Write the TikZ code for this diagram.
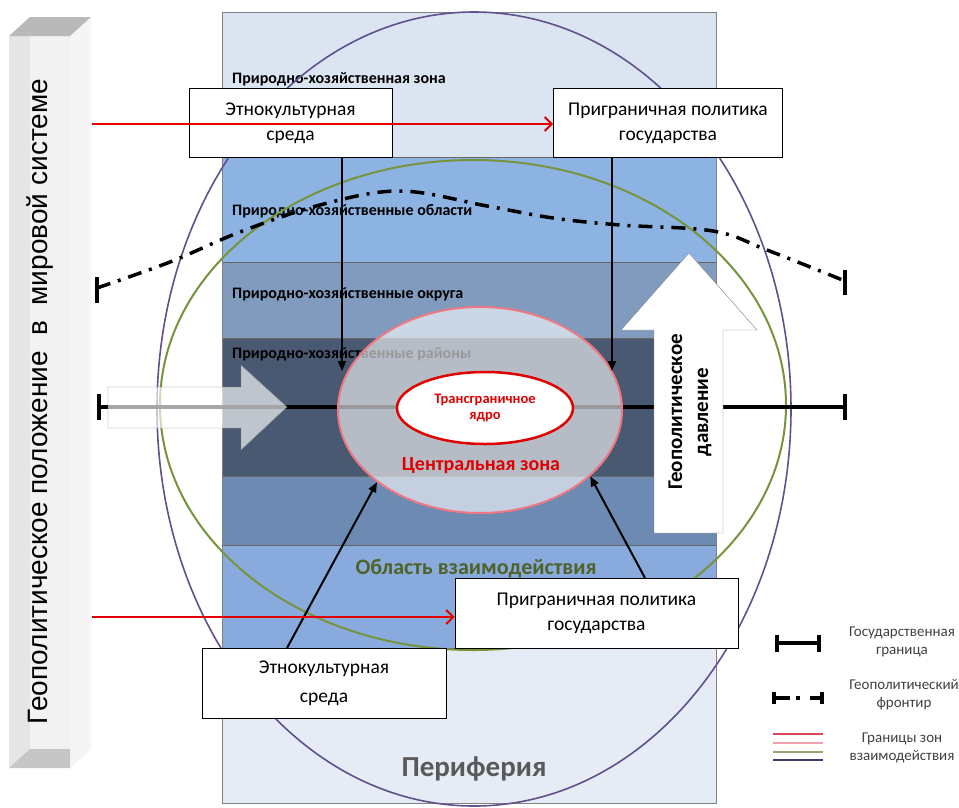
\documentclass[tikz,border=0pt]{standalone}
\usepackage{fontspec}
\setmainfont{Carlito}
\newfontfamily\barfont{Liberation Sans}
\usetikzlibrary{arrows.meta,positioning,shapes.geometric}

\definecolor{bandA}{RGB}{219,229,242}
\definecolor{bandB}{RGB}{141,179,226}
\definecolor{bandC}{RGB}{128,155,190}
\definecolor{bandD}{RGB}{74,89,114}
\definecolor{bandE}{RGB}{108,138,178}
\definecolor{bandF}{RGB}{137,170,220}
\definecolor{bandG}{RGB}{229,236,246}
\definecolor{outerring}{RGB}{96,80,140}
\definecolor{midring}{RGB}{119,147,60}
\definecolor{innerring}{RGB}{240,120,130}
\definecolor{coreRed}{RGB}{225,0,0}
\definecolor{zoneGreen}{RGB}{79,98,40}
\definecolor{legendgray}{RGB}{64,64,64}
\definecolor{legRed}{RGB}{220,70,90}
\definecolor{legPink}{RGB}{240,160,175}
\definecolor{legOlive}{RGB}{155,160,110}
\definecolor{legNavy}{RGB}{60,60,100}

\tikzset{
  box/.style={draw=black, fill=white, line width=0.8pt, align=center,
    font=\fontsize{19.5}{25}\selectfont, inner sep=0pt},
  bandlabel/.style={anchor=west, inner sep=0pt,
    font=\bfseries\fontsize{16}{18}\selectfont},
  pushline/.style={red!90!black, line width=2pt,
    -{Straight Barb[length=7pt,width=14pt]}},
  flow/.style={line width=2pt, -{Triangle[length=10pt,width=8pt]}},
  stateline/.style={line width=4pt},
  frontline/.style={line width=3.5pt, dash pattern=on 14pt off 8pt on 3pt off 8pt},
  legendtext/.style={align=center, text=legendgray, font=\fontsize{15}{18}\selectfont}
}

\begin{document}
\begin{tikzpicture}[x=1pt,y=-1pt]
\useasboundingbox (0,0) rectangle (959,807);

% left 3d bar
\fill[gray!20] (9,36) rectangle (30,768);
\fill[gray!10] (30,36) rectangle (70,768);
\fill[gray!8] (70,36) -- (91,17) -- (91,749) -- (70,768) -- cycle;
\fill[gray!55] (9,36) -- (30,17) -- (91,17) -- (70,36) -- cycle;
\fill[gray!45] (9,768) -- (30,749) -- (70,749) -- (70,768) -- cycle;
\node[rotate=90, font=\barfont\fontsize{28}{32}\selectfont] (worldpos) at (40,402)
  {Геополитическое положение~~в~~мировой системе};

% bands, edit here for the heights
\foreach \ya/\yb/\col in {12/157/bandA, 157/262/bandB, 262/338/bandC,
    338/476/bandD, 476/545/bandE, 545/648/bandF, 648/803/bandG}
  \draw[black!60, fill=\col] (222,\ya) rectangle (716,\yb);
\draw[gray] (222,12) rectangle (716,803);

\node[bandlabel] (zoneA) at (232,79) {Природно-хозяйственная зона};
\node[bandlabel] (zoneB) at (232,211) {Природно-хозяйственные области};
\node[bandlabel] (zoneC) at (232,294) {Природно-хозяйственные округа};
\node[bandlabel] (zoneD) at (232,354) {Природно-хозяйственные районы};

% zone borders
\draw[outerring, line width=1.6pt] (474,409) ellipse [x radius=317, y radius=397];
\draw[midring, line width=2pt] (473,405) ellipse [x radius=313, y radius=245];

% geopolitical frontier
\coordinate (frL) at (97,288);
\coordinate (frR) at (845,281);
\draw[frontline] plot[smooth, tension=0.6] coordinates {(frL) (170,262) (240,232)
  (320,205) (400,191) (487,206) (553,218) (620,225) (713,231) (767,250) (frR)};
\draw[line width=3.5pt] (97,277) -- (97,303);
\draw[line width=3.5pt] (845,270) -- (845,295);

% state border
\coordinate (sbL) at (97,407);
\coordinate (sbR) at (847,407);
\draw[stateline, {Bar[width=26pt]}-{Bar[width=26pt]}] (sbL) -- (sbR);

% push from outside
\draw[gray, fill=white, fill opacity=0.65] (108,387) -- (241,387) -- (241,365)
  -- (287,407) -- (241,450) -- (241,428) -- (108,428) -- cycle;

% central zone and core
\node[ellipse, draw=innerring, line width=2pt, fill=white, fill opacity=0.6,
  minimum width=284, minimum height=206] (centre) at (480,410) {};
\node[ellipse, draw=coreRed, line width=2.5pt, fill=white, align=center,
  text=coreRed, font=\bfseries\fontsize{14.5}{16}\selectfont,
  minimum width=176, minimum height=72, inner sep=0pt] (core) at (485,408)
  {Трансграничное\\ядро};
\node[text=coreRed, font=\bfseries\fontsize{20}{22}\selectfont] (centrename)
  at (481,466) {Центральная зона};

% geopolitical pressure
\draw[gray, fill=white] (654,533) -- (723,533) -- (723,330) -- (757,330)
  -- (689,253) -- (621,330) -- (654,330) -- cycle;
\node[rotate=90, align=center, font=\bfseries\fontsize{21}{26}\selectfont]
  (pressure) at (690,412) {Геополитическое\\давление};

\node[text=zoneGreen, font=\bfseries\fontsize{22}{24}\selectfont] (interact)
  at (476,569) {Область взаимодействия};
\node[text=black!65, font=\bfseries\fontsize{29}{32}\selectfont] (periph)
  at (474,769) {Периферия};

% boxes
\node[box, minimum width=203, minimum height=69] (ethTop) at (290.5,123)
  {Этнокультурная\\среда};
\node[box, minimum width=229, minimum height=69] (polTop) at (668,123)
  {Приграничная политика\\государства};
\node[box, minimum width=283, minimum height=70] (polBot) at (596.5,613)
  {Приграничная политика\\государства};
\node[box, minimum width=244, minimum height=70,
  font=\fontsize{19.5}{29}\selectfont] (ethBot) at (324,683)
  {Этнокультурная\\среда};

% influence arrows
\coordinate (dropL) at (342,371);
\coordinate (dropR) at (612,371);
\draw[flow] (ethTop.south -| dropL) -- (dropL);
\draw[flow] (polTop.south -| dropR) -- (dropR);
\coordinate (riseL) at (287,648);
\coordinate (riseR) at (645,578);
\draw[flow] (riseL) -- (centre.215);
\draw[flow] (riseR) -- (centre.329);

\coordinate (barTop) at (92,124);
\coordinate (barBot) at (92,617);
\draw[pushline] (barTop) -- (barTop -| polTop.west);
\draw[pushline] (barBot) -- (barBot -| polBot.west);

% legend
\draw[stateline, {Bar[width=17pt]}-{Bar[width=17pt]}] (775,643) -- (821,643);
\node[legendtext] (legState) at (902,642) {Государственная\\граница};
\draw[line width=3.5pt] (774,692) -- (774,704) (822,692) -- (822,704);
\draw[line width=3.5pt] (774,698) -- (790,698) (796,698) -- (800,698)
  (810,698) -- (822,698);
\node[legendtext] (legFront) at (904,695) {Геополитический\\фронтир};
\foreach \yy/\cc in {734/legRed, 743/legPink, 752/legOlive, 760/legNavy}
  \draw[\cc, line width=1.3pt] (773,\yy) -- (823,\yy);
\node[legendtext] (legZones) at (902,748) {Границы зон\\взаимодействия};
\end{tikzpicture}
\end{document}
